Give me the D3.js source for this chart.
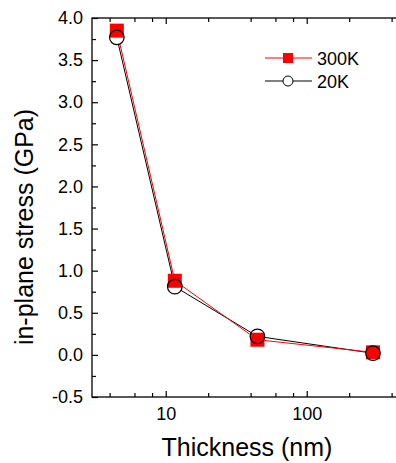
<!DOCTYPE html>
<html>
<head>
<meta charset="utf-8">
<script src="https://cdn.jsdelivr.net/npm/d3@7"></script>
<style>
  body { margin: 0; background: #fff; }
  svg { display: block; }
  text { font-family: "Liberation Sans", Arial, sans-serif; fill: #000; }
</style>
</head>
<body>
<svg id="chart" width="396" height="463"></svg>
<script>
// epaisseurs (nm)
var thickness = [4.5, 11.6, 44.7, 295];

// contrainte dans le plan (GPa)
var stress300K = [3.85, 0.88, 0.18, 0.03];
var stress20K = [3.77, 0.81, 0.22, 0.02];

var yTicks = [-0.5, 0.0, 0.5, 1.0, 1.5, 2.0, 2.5, 3.0, 3.5, 4.0];
var xTicks = [10, 100];

var seriesNames = ["300K", "20K"];

var svg = d3.select("#chart");

// zone du graphe (attention : "top" est reserve par window)
var plotLeft = 92, plotTop = 18, plotBottom = 397;
var decade = 141;

var x = d3.scaleLog()
	.domain([3, 460])
	.range([plotLeft, plotLeft + decade * Math.log10(460 / 3)]);

var y = d3.scaleLinear()
	.domain([-0.5, 4.0])
	.range([plotBottom, plotTop]);

// graduations secondaires x : 2,4,6,8 par decade
var xMinor = [];
[1, 10, 100].forEach(function(d){
	[2, 4, 6, 8].forEach(function(m){
		var v = d * m;
		if (v >= 3 && v <= 460) xMinor.push(v);
	});
});
var yMinor = d3.range(-0.25, 4.0, 0.5);

function no_domain(g){
	g.select(".domain").remove();
}

// format avec tiret simple comme l'original
function fmtY(d){
	return d.toFixed(1);
}

// axe bas
svg.append("g")
	.attr("transform", "translate(0," + plotBottom + ")")
	.call(d3.axisBottom(x).tickValues(xTicks).tickSize(-6).tickPadding(10).tickFormat(d3.format("d")))
	.call(no_domain)
	.selectAll("text").style("font-size", "18px");

svg.append("g")
	.attr("transform", "translate(0," + plotBottom + ")")
	.call(d3.axisBottom(x).tickValues(xMinor).tickSize(-4).tickFormat(""))
	.call(no_domain);

// axe haut
svg.append("g")
	.attr("transform", "translate(0," + plotTop + ")")
	.call(d3.axisTop(x).tickValues(xTicks).tickSize(-6).tickFormat(""))
	.call(no_domain);

svg.append("g")
	.attr("transform", "translate(0," + plotTop + ")")
	.call(d3.axisTop(x).tickValues(xMinor).tickSize(-4).tickFormat(""))
	.call(no_domain);

// axe gauche
svg.append("g")
	.attr("transform", "translate(" + plotLeft + ",0)")
	.call(d3.axisLeft(y).tickValues(yTicks).tickSize(-6).tickPadding(9).tickFormat(fmtY))
	.call(no_domain)
	.selectAll("text").style("font-size", "18px");

svg.append("g")
	.attr("transform", "translate(" + plotLeft + ",0)")
	.call(d3.axisLeft(y).tickValues(yMinor).tickSize(-4).tickFormat(""))
	.call(no_domain);

svg.selectAll(".tick line").attr("stroke", "#000").attr("stroke-width", 1.2);

// cadre
svg.append("rect")
	.attr("x", plotLeft)
	.attr("y", plotTop)
	.attr("width", x.range()[1] - plotLeft)
	.attr("height", plotBottom - plotTop)
	.attr("fill", "none")
	.attr("stroke", "#000")
	.attr("stroke-width", 1.3);

// courbes
var courbe = d3.line()
	.x(function(d, i){ return x(thickness[i]); })
	.y(function(d){ return y(d); });

svg.append("path")
	.attr("d", courbe(stress20K))
	.attr("fill", "none")
	.attr("stroke", "#000")
	.attr("stroke-width", 1);

svg.append("path")
	.attr("d", courbe(stress300K))
	.attr("fill", "none")
	.attr("stroke", "#ff0000")
	.attr("stroke-width", 1);

// cercles 20K (fond blanc)
svg.selectAll("circle.c20")
	.data(stress20K)
	.enter()
	.append("circle")
	.attr("class", "c20")
	.attr("cx", function(d, i){ return x(thickness[i]); })
	.attr("cy", function(d){ return y(d); })
	.attr("r", 7.3)
	.attr("fill", "#fff");

// carres 300K
svg.selectAll("rect.s300")
	.data(stress300K)
	.enter()
	.append("rect")
	.attr("class", "s300")
	.attr("x", function(d, i){ return x(thickness[i]) - 7; })
	.attr("y", function(d){ return y(d) - 7; })
	.attr("width", 14)
	.attr("height", 14)
	.attr("fill", "#ff0000");

// contour des cercles par dessus
svg.selectAll("circle.o20")
	.data(stress20K)
	.enter()
	.append("circle")
	.attr("class", "o20")
	.attr("cx", function(d, i){ return x(thickness[i]); })
	.attr("cy", function(d){ return y(d); })
	.attr("r", 7.3)
	.attr("fill", "none")
	.attr("stroke", "#000")
	.attr("stroke-width", 1.2);

// legende
var legend = svg.append("g");

legend.append("line")
	.attr("x1", 265).attr("y1", 58).attr("x2", 312).attr("y2", 58)
	.attr("stroke", "#ff0000").attr("stroke-width", 1);
legend.append("rect")
	.attr("x", 283).attr("y", 53).attr("width", 10).attr("height", 10)
	.attr("fill", "#ff0000");
legend.append("text")
	.attr("x", 317).attr("y", 65)
	.style("font-size", "18px")
	.text(seriesNames[0]);

legend.append("line")
	.attr("x1", 265).attr("y1", 81).attr("x2", 312).attr("y2", 81)
	.attr("stroke", "#000").attr("stroke-width", 1);
legend.append("circle")
	.attr("cx", 288).attr("cy", 81).attr("r", 5)
	.attr("fill", "#fff").attr("stroke", "#000").attr("stroke-width", 1);
legend.append("text")
	.attr("x", 317).attr("y", 88)
	.style("font-size", "18px")
	.text(seriesNames[1]);

// titres des axes
svg.append("text")
	.attr("x", 247)
	.attr("y", 456)
	.attr("text-anchor", "middle")
	.style("font-size", "25px")
	.text("Thickness (nm)");

svg.append("text")
	.attr("transform", "translate(33,227) rotate(-90)")
	.attr("text-anchor", "middle")
	.style("font-size", "25px")
	.text("in-plane stress (GPa)");
</script>
</body>
</html>
